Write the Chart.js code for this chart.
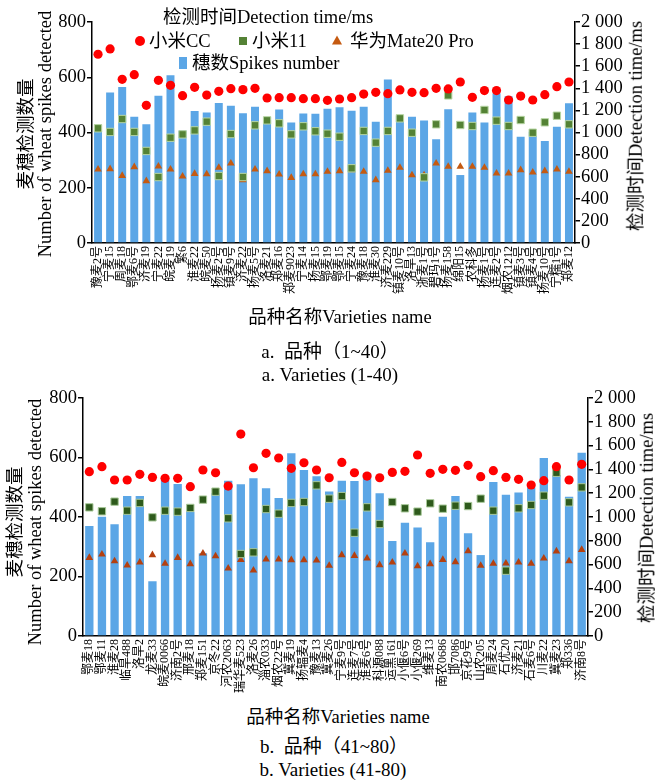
<!DOCTYPE html>
<html lang="zh">
<head>
<meta charset="utf-8">
<title>麦穗检测数量与检测时间</title>
<script src="https://cdn.jsdelivr.net/npm/chart.js@4.4.0/dist/chart.umd.min.js"></script>
<style>
    html, body { margin: 0; padding: 0; background: #fff; }
    body {
        width: 657px; height: 780px; position: relative; overflow: hidden;
        font-family: 'Liberation Serif', 'Noto Sans CJK SC', serif; color: #000;
    }
    .chart-box { position: absolute; left: 0; width: 657px; }
    .t {
        position: absolute; white-space: nowrap; font-size: 18.5px; line-height: 1;
        transform: translate(-50%, -50%);
    }
    .tl {
        position: absolute; white-space: nowrap; font-size: 18.5px; line-height: 1;
        transform: translateY(-50%);
    }
    .v {
        position: absolute; white-space: nowrap; font-size: 18.5px; line-height: 1;
        transform: translate(-50%, -50%) rotate(-90deg);
    }
    .cap { font-size: 19px; }
    .mk { position: absolute; transform: translate(-50%, -50%); }
    .mk-circle { width: 10px; height: 10px; border-radius: 50%; background: #ff0000; }
    .mk-square { width: 8px; height: 8px; background: #548235; }
    .mk-tri { width: 0; height: 0; border-left: 5px solid transparent; border-right: 5px solid transparent; border-bottom: 9px solid #c55a11; }
    .mk-bar { width: 8px; height: 12px; background: #5ba6e6; }
</style>
</head>
<body>

<div class="chart-box" style="top:0;height:320px"><canvas id="chartA" width="657" height="320"></canvas></div>
<div class="chart-box" style="top:376px;height:330px"><canvas id="chartB" width="657" height="330"></canvas></div>

<!-- legend of the upper chart -->
<div class="tl" style="left:163px;top:17px">检测时间Detection time/ms</div>
<span class="mk mk-circle" style="left:140px;top:41px"></span>
<div class="tl" style="left:149px;top:41px">小米CC</div>
<span class="mk mk-square" style="left:243px;top:41px"></span>
<div class="tl" style="left:252px;top:41px">小米11</div>
<span class="mk mk-tri" style="left:337px;top:40px"></span>
<div class="tl" style="left:350px;top:41px">华为Mate20 Pro</div>
<span class="mk mk-bar" style="left:183px;top:63px"></span>
<div class="tl" style="left:192px;top:63px">穗数Spikes number</div>

<!-- axis titles, upper chart -->
<div class="v" style="left:26px;top:134px">麦穗检测数量</div>
<div class="v" style="left:45px;top:134px">Number of wheat spikes detected</div>
<div class="v" style="left:636px;top:126px">检测时间Detection time/ms</div>
<div class="t" style="left:340px;top:317px">品种名称Varieties name</div>
<div class="t cap" style="left:330px;top:351px">a.&nbsp; 品种（1~40）</div>
<div class="t cap" style="left:330px;top:374px">a. Varieties (1-40)</div>

<!-- axis titles, lower chart -->
<div class="v" style="left:15px;top:522px">麦穗检测数量</div>
<div class="v" style="left:35px;top:522px">Number of wheat spikes detected</div>
<div class="v" style="left:647px;top:518px">检测时间Detection time/ms</div>
<div class="t" style="left:338px;top:717px">品种名称Varieties name</div>
<div class="t cap" style="left:334px;top:746px">b.&nbsp; 品种（41~80）</div>
<div class="t cap" style="left:333px;top:769px">b. Varieties (41-80)</div>

<script>
// Varieties 1-40
const varietiesA = ['豫麦2号', '宁麦15', '周麦18', '鄂麦6号', '济麦19', '宁麦22', '皖麦19', '繁6', '淮麦22', '皖麦50',
    '扬麦2号', '镇麦9号', '济麦22', '扬麦5号', '洛麦21', '郑麦16', '郑麦9023', '宁麦14', '扬麦15', '鄂麦19',
    '鄂麦15', '宁麦24', '豫麦18', '淮麦30', '济麦229', '镇麦10号', '洛旱13', '浙麦1号', '碧玛1号', '扬麦158',
    '绵阳15', '农科多', '扬麦1号', '连麦2号', '烟农1212', '镇麦3号', '镇麦4号', '扬麦10号', '宁糯1号', '郑麦12'];
const spikesA = [405, 545, 565, 457, 430, 533, 607, 407, 478, 472, 507, 497, 470, 493, 445, 483, 436, 469, 468, 486,
    491, 479, 493, 439, 592, 460, 457, 443, 376, 484, 246, 472, 436, 542, 531, 385, 403, 369, 421, 506];
const xiaomiCCA = [1708, 1756, 1481, 1523, 1246, 1472, 1427, 1333, 1409, 1339, 1373, 1397, 1388, 1400, 1312, 1315, 1315, 1306, 1306, 1291,
    1303, 1315, 1348, 1364, 1351, 1385, 1364, 1360, 1400, 1394, 1457, 1318, 1379, 1379, 1294, 1330, 1294, 1342, 1415, 1457];
const xiaomi11A = [1038, 1005, 1122, 1005, 833, 597, 953, 983, 1019, 1098, 606, 986, 597, 1065, 1110, 1083, 983, 1056, 1011, 989,
    962, 676, 1014, 908, 1014, 1128, 998, 594, 1074, 1336, 1068, 1059, 1204, 1107, 1059, 1113, 998, 1092, 1152, 1074];
const huaweiA = [667, 670, 609, 688, 561, 694, 667, 603, 627, 624, 682, 721, 570, 667, 652, 621, 591, 624, 624, 646,
    652, 661, 646, 570, 655, 682, 615, 615, 721, 691, 691, 691, 682, 630, 630, 661, 639, 652, 667, 646];

// Varieties 41-80
const varietiesB = ['鄂麦18', '鄂麦11', '淮麦28', '临旱488', '洛旱2', '龙麦33', '皖麦0066', '济南2号', '邢麦18', '郑麦151',
    '京冬22', '河农2063', '瑞华麦523', '洛麦26', '淄农033', '烟农22号', '冀麦19', '扬辐麦4', '豫麦13', '冀麦26',
    '宁麦9号', '连麦7号', '淮麦6号', '科源088', '运黑161', '小偃6号', '小偃269', '维麦13', '南农0686', '邯7086',
    '京花9号', '山农205', '周麦24', '石优20', '济麦21', '石麦6号', '川麦22', '冀麦23', '郑336', '济南8号'];
const spikesB = [370, 401, 376, 471, 471, 184, 524, 511, 418, 278, 480, 522, 510, 530, 497, 464, 614, 558, 537, 486,
    522, 521, 547, 480, 319, 381, 365, 315, 401, 471, 345, 272, 518, 475, 482, 500, 598, 541, 468, 616];
const xiaomiCCB = [1381, 1423, 1311, 1311, 1359, 1333, 1325, 1325, 1255, 1395, 1372, 1260, 1697, 1414, 1535, 1496, 1409, 1456, 1395, 1330,
    1459, 1372, 1344, 1330, 1375, 1384, 1521, 1367, 1401, 1392, 1434, 1339, 1389, 1333, 1317, 1269, 1305, 1423, 1311, 1443];
const xiaomi11B = [1081, 1048, 1129, 1053, 1118, 997, 1053, 1045, 1076, 1146, 1213, 989, 689, 703, 1067, 1028, 1118, 1126, 1266, 1154,
    1176, 868, 1081, 941, 1126, 1073, 1045, 1115, 1070, 1095, 1092, 1154, 1053, 549, 1073, 1101, 1179, 1372, 1123, 1249];
const huaweiB = [658, 686, 630, 594, 619, 681, 608, 658, 605, 695, 672, 569, 641, 552, 644, 644, 639, 639, 636, 591,
    681, 675, 653, 597, 619, 695, 588, 605, 641, 622, 714, 591, 608, 611, 619, 608, 653, 712, 630, 725];

// Tick labels
const leftTicks = ['0', '200', '400', '600', '800'];
const rightTicks = ['0', '200', '400', '600', '800', '1 000', '1 200', '1 400', '1 600', '1 800', '2 000'];

const SERIF = "'Liberation Serif', 'Noto Sans CJK SC', serif";
const BAR_BLUE = '#5ba6e6';
const RED = '#ff0000';

// Build one variety chart (bars = spikes, markers = detection time)
function createVarietyChart(canvasId, data, look) {
    const canvas = document.getElementById(canvasId);
    if (!canvas) {
        console.error(`Canvas element with id "${canvasId}" not found`);
        return null;
    }

    const axisGrid = { drawOnChartArea: false, color: '#000', lineWidth: 1.5, tickLength: 5 };
    const axisBorder = { display: true, color: '#000', width: 1.5 };

    const config = {
        type: 'bar',
        data: {
            labels: data.labels,
            datasets: [
                {
                    type: 'line', label: '小米CC', data: data.cc, yAxisID: 'y1', showLine: false,
                    pointStyle: 'circle', pointRadius: 4.6, backgroundColor: RED, borderColor: RED,
                    pointBorderWidth: 0, order: 0
                },
                {
                    type: 'line', label: '小米11', data: data.mi11, yAxisID: 'y1', showLine: false,
                    pointStyle: 'rect', pointRadius: 5.2, backgroundColor: look.green, borderColor: look.greenEdge,
                    pointBorderWidth: 1, order: 1
                },
                {
                    type: 'line', label: '华为Mate20 Pro', data: data.huawei, yAxisID: 'y1', showLine: false,
                    pointStyle: 'triangle', pointRadius: 4.4, backgroundColor: look.tri, borderColor: look.tri,
                    pointBorderWidth: 0, order: 2
                },
                {
                    type: 'bar', label: '穗数Spikes number', data: data.spikes, yAxisID: 'y',
                    backgroundColor: BAR_BLUE, borderWidth: 0, barPercentage: 0.66, categoryPercentage: 1, order: 3
                }
            ]
        },
        options: {
            responsive: false,
            animation: false,
            layout: { padding: { top: look.top, left: 0, right: 0, bottom: 0 } },
            plugins: { legend: { display: false }, tooltip: { enabled: false } },
            scales: {
                x: {
                    offset: true,
                    grid: { drawOnChartArea: false, drawTicks: false },
                    border: axisBorder,
                    ticks: {
                        autoSkip: false, minRotation: 90, maxRotation: 90, padding: 3,
                        color: '#000', font: { family: SERIF, size: 12 }
                    },
                    afterFit: s => { s.height = look.xHeight; }
                },
                y: {
                    position: 'left', min: 0, max: 800,
                    grid: axisGrid, border: axisBorder,
                    ticks: {
                        stepSize: 200, autoSkip: false, padding: 1, color: '#000', font: { family: SERIF, size: 18.5 },
                        callback: (v, i) => leftTicks[i]
                    },
                    afterFit: s => { s.width = look.leftW; }
                },
                y1: {
                    position: 'right', min: 0, max: 2000,
                    grid: axisGrid, border: axisBorder,
                    ticks: {
                        stepSize: 200, autoSkip: false, padding: 1, color: '#000', font: { family: SERIF, size: 18.5 },
                        callback: (v, i) => rightTicks[i]
                    },
                    afterFit: s => { s.width = look.rightW; }
                }
            }
        }
    };

    return new Chart(canvas, config);
}

document.addEventListener('DOMContentLoaded', () => {
    createVarietyChart('chartA',
        { labels: varietiesA, spikes: spikesA, cc: xiaomiCCA, mi11: xiaomi11A, huawei: huaweiA },
        { green: '#548235', greenEdge: '#b7d6a3', tri: '#c55a11', top: 22, xHeight: 77, leftW: 92, rightW: 82 });

    createVarietyChart('chartB',
        { labels: varietiesB, spikes: spikesB, cc: xiaomiCCB, mi11: xiaomi11B, huawei: huaweiB },
        { green: '#2e5a1c', greenEdge: '#a9c99a', tri: '#b5400f', top: 22, xHeight: 70, leftW: 83, rightW: 69 });
});
</script>
</body>
</html>
